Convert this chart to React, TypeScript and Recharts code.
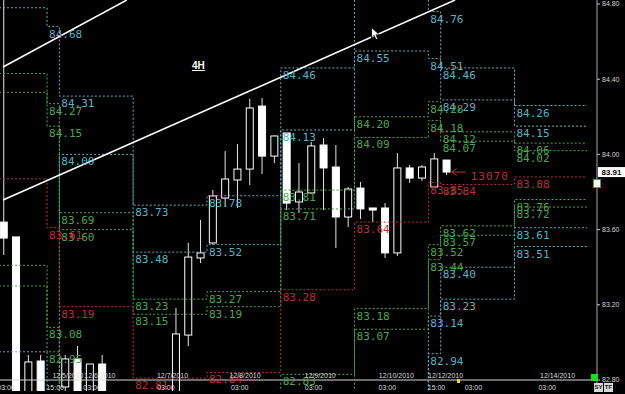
import React from 'react';
import { ComposedChart, Bar, Line, XAxis, YAxis, ReferenceLine, ReferenceDot } from 'recharts';

// ---------- candle data (4H bars, index = bar number) ----------
const opens = [83.64, 83.561, 82.7, 82.901, 82.7, 82.763, 82.912, 82.72, 82.885, 82.7, 82.58, 82.5, 82.58, 82.66, 82.7, 83.039, 83.449, 83.529, 83.768, 83.864, 83.922, 84.257, 83.991, 84.114, 83.747, 83.795, 84.05, 83.933, 83.667, 83.821, 83.715, 83.715, 83.476, 83.928, 83.874, 83.827, 83.97];
const highs = [84.95, 83.561, 82.933, 82.933, 82.735, 82.933, 82.981, 82.885, 82.933, 82.735, 82.66, 82.62, 82.7, 82.73, 83.183, 83.529, 83.651, 83.811, 84.018, 84.055, 84.295, 84.3, 84.1, 84.114, 83.954, 84.066, 84.087, 84.05, 83.827, 83.853, 83.715, 83.741, 84.007, 83.944, 83.944, 84.007, 83.97];
const lows = [83.465, 82.6, 82.62, 82.66, 82.64, 82.72, 82.68, 82.69, 82.66, 82.52, 82.45, 82.44, 82.52, 82.58, 82.66, 82.981, 83.422, 83.52, 83.72, 83.715, 83.837, 83.896, 83.954, 83.704, 83.688, 83.79, 83.704, 83.502, 83.614, 83.656, 83.64, 83.449, 83.46, 83.848, 83.859, 83.827, 83.89];
const closes = [83.555, 82.66, 82.896, 82.7, 82.72, 82.912, 82.72, 82.885, 82.7, 82.58, 82.5, 82.58, 82.66, 82.7, 83.045, 83.454, 83.476, 83.779, 83.869, 83.922, 84.247, 83.991, 84.098, 83.741, 83.8, 84.045, 83.928, 83.667, 83.816, 83.71, 83.704, 83.476, 83.928, 83.874, 83.933, 83.976, 83.906];

// ---------- daily level lines (one value per day, stepped) ----------
const dayEdges = [-0.4, 3.5, 4.5, 10.5, 16.5, 22.5, 28.5, 34.5, 35.5, 41.5, 47.4];
const cyanHigh1 = [84.78, 84.68, 84.31, 83.73, 83.78, 84.46, 84.95, 84.76, 84.46, 84.26];
const cyanHigh2 = [82.95, 82.6, 84.0, 83.48, 83.52, 84.13, 84.55, 84.51, 84.29, 84.15];
const cyanLow1 = [null, null, null, null, null, null, 82.5, 83.14, 83.4, 83.61];
const cyanLow2 = [null, null, null, null, null, null, 82.5, 82.94, 83.23, 83.51];
const greenHigh1 = [84.43, 84.27, 83.69, 83.23, 83.27, 83.81, 84.2, 84.28, 84.12, 84.06];
const greenHigh2 = [84.33, 84.15, 83.6, 83.15, 83.19, 83.71, 84.09, 84.18, 84.07, 84.02];
const greenLow1 = [83.41, 83.08, 82.65, 82.65, 82.65, 82.83, 83.18, 83.52, 83.62, 83.76];
const greenLow2 = [83.3, 82.95, 82.6, 82.6, 82.6, 82.6, 83.07, 83.44, 83.57, 83.72];
const redLevels = [83.87, 83.61, 83.19, 82.81, 82.84, 83.28, 83.64, 83.85, 83.84, 83.88];

// ---------- axis ticks ----------
const timeTickPos = [0, 4, 7, 13, 19, 25, 31, 35, 38, 44];
const timeTickLabels = ['03:00', '15:00', '03:00', '03:00', '03:00', '03:00', '03:00', '15:00', '03:00', '03:00'];
const dateTickPos = [5.2, 7.8, 13.7, 19.6, 25.7, 31.9, 35.9, 45.0];
const dateTickLabels = ['12/5/2010', '12/6/2010', '12/7/2010', '12/8/2010', '12/9/2010', '12/10/2010', '12/12/2010', '12/14/2010'];
const priceTicks = [82.8, 83.2, 83.6, 84.0, 84.4, 84.8];

// ---------- trend lines (bar index, price) ----------
const trendLine1 = [[-0.08, 84.465], [9.98, 84.821]];
const trendLine2 = [[-0.08, 83.757], [36.67, 84.821]];

const timerText = '13070';
const timeframe = '4H';

const X_DOMAIN = [-0.325, 48.21];
const Y_DOMAIN = [82.7415, 84.8213];

const CYAN = '#5fb1c2';
const GREEN = '#4fa64f';
const RED = '#b83232';
const LABEL_FONT = '"DejaVu Sans Mono", monospace';
const AXIS_FONT = '"Liberation Sans", Arial, sans-serif';

const candles = opens.map((o, i) => ({
  x: i,
  o,
  h: highs[i],
  l: lows[i],
  c: closes[i],
  range: [lows[i], highs[i]],
}));

const levelSets = [
  { vals: cyanHigh1, color: CYAN },
  { vals: cyanHigh2, color: CYAN },
  { vals: cyanLow1, color: CYAN },
  { vals: cyanLow2, color: CYAN },
  { vals: greenHigh1, color: GREEN },
  { vals: greenHigh2, color: GREEN },
  { vals: greenLow1, color: GREEN },
  { vals: greenLow2, color: GREEN },
  { vals: redLevels, color: RED },
];

const stepData = (vals: (number | null)[]) => {
  const pts: { x: number; v: number }[] = [];
  vals.forEach((v, d) => {
    if (v != null) pts.push({ x: dayEdges[d], v });
  });
  pts.push({ x: dayEdges[dayEdges.length - 1], v: vals[vals.length - 1] as number });
  return pts;
};

const labels: { x: number; v: number; color: string }[] = [];
levelSets.forEach((s) => {
  s.vals.forEach((v, d) => {
    if (d >= 1 && v != null && v > 82.76 && v < 84.81) labels.push({ x: dayEdges[d], v, color: s.color });
  });
});

const tickInfo = new Map<number, { text: string; kind: string }>();
timeTickPos.forEach((p, i) => tickInfo.set(p, { text: timeTickLabels[i], kind: 'time' }));
dateTickPos.forEach((p, i) => tickInfo.set(p, { text: dateTickLabels[i], kind: 'date' }));
const allTicks = [...timeTickPos, ...dateTickPos].sort((a, b) => a - b);

const XTick = (p: any) => {
  const info = tickInfo.get(p.payload?.value);
  if (!info) return null;
  const isDate = info.kind === 'date';
  return (
    <text
      x={p.x + (isDate ? 0 : 2)}
      y={isDate ? 378 : 390}
      textAnchor="middle"
      fill="#dcdcdc"
      fontSize={7}
      fontFamily={AXIS_FONT}
    >
      {info.text}
    </text>
  );
};

const Candle = (props: any) => {
  const { x, y, width, height, payload } = props;
  if (!payload || x == null) return null;
  const { o, h, l, c } = payload;
  const cx = x + width / 2;
  const yTop = Math.min(y, y + height);
  const yBot = Math.max(y, y + height);
  const py = (v: number) => yTop + ((h - v) / (h - l)) * (yBot - yTop);
  const bTop = py(Math.max(o, c));
  const bBot = py(Math.min(o, c));
  const bull = c >= o;
  return (
    <g>
      <line x1={cx} x2={cx} y1={yTop} y2={yBot} stroke="#e6e6e6" strokeWidth={1} />
      <rect
        x={cx - 3.5}
        y={bTop}
        width={7}
        height={Math.max(1, bBot - bTop)}
        fill={bull ? '#000' : '#ffffff'}
        stroke="#ffffff"
        strokeWidth={1}
      />
    </g>
  );
};

const lastClose = closes[closes.length - 1];

export default function App() {
  return (
    <div
      style={{
        position: 'absolute',
        left: 0,
        top: 0,
        width: 625,
        height: 394,
        background: '#000',
        overflow: 'hidden',
      }}
    >
      <ComposedChart width={625} height={394} data={candles} margin={{ top: 0, right: 0, bottom: 0, left: 0 }}>
        <XAxis
          dataKey="x"
          type="number"
          domain={X_DOMAIN}
          allowDataOverflow
          ticks={allTicks}
          interval={0}
          tick={(p: any) => <XTick {...p} />}
          axisLine={false}
          tickLine={false}
          height={3}
        />
        <YAxis
          orientation="right"
          width={28}
          domain={Y_DOMAIN}
          allowDataOverflow
          ticks={priceTicks}
          interval={0}
          tickFormatter={(v: number) => v.toFixed(2)}
          tick={{ fill: '#d4d4d4', fontSize: 7, fontFamily: AXIS_FONT }}
          tickSize={3}
          tickLine={{ stroke: '#c8c8c8' }}
          axisLine={{ stroke: '#a8a8a8' }}
        />
        <ReferenceLine y={82.8} stroke="#d8d8d8" strokeWidth={1} ifOverflow="hidden" />
        {levelSets.map((s, i) => (
          <Line
            key={'lv' + i}
            data={stepData(s.vals)}
            dataKey="v"
            type="stepAfter"
            stroke={s.color}
            strokeWidth={1}
            strokeDasharray="2 2"
            dot={false}
            activeDot={false}
            isAnimationActive={false}
          />
        ))}
        {labels.map((lb, i) => (
          <ReferenceDot
            key={'lb' + i}
            x={lb.x}
            y={lb.v}
            r={0}
            shape={(p: any) => (
              <text x={p.cx + 2} y={p.cy + 11} fill={lb.color} fontSize={11} fontFamily={LABEL_FONT}>
                {lb.v.toFixed(2)}
              </text>
            )}
          />
        ))}
        <Bar dataKey="range" barSize={8} shape={(p: any) => <Candle {...p} />} isAnimationActive={false} />
        <ReferenceLine
          segment={[
            { x: trendLine1[0][0], y: trendLine1[0][1] },
            { x: trendLine1[1][0], y: trendLine1[1][1] },
          ]}
          stroke="#ffffff"
          strokeWidth={1.6}
          ifOverflow="hidden"
        />
        <ReferenceLine
          segment={[
            { x: trendLine2[0][0], y: trendLine2[0][1] },
            { x: trendLine2[1][0], y: trendLine2[1][1] },
          ]}
          stroke="#ffffff"
          strokeWidth={1.6}
          ifOverflow="hidden"
        />
        <ReferenceDot
          x={36.4}
          y={lastClose}
          r={0}
          shape={(p: any) => (
            <g>
              <path
                d={`M${p.cx} ${p.cy} L${p.cx + 14} ${p.cy} M${p.cx} ${p.cy} L${p.cx + 5} ${p.cy - 3.5} M${p.cx} ${p.cy} L${p.cx + 5} ${p.cy + 3.5}`}
                stroke={RED}
                strokeWidth={1}
                fill="none"
              />
              <text x={p.cx + 19} y={p.cy + 8} fill={RED} fontSize={11} fontFamily={LABEL_FONT} letterSpacing={1}>
                {timerText}
              </text>
            </g>
          )}
        />
        <ReferenceDot
          x={X_DOMAIN[1]}
          y={lastClose}
          r={0}
          ifOverflow="visible"
          shape={(p: any) => (
            <g>
              <rect x={p.cx + 1} y={p.cy - 5} width={27} height={10} fill="#ffffff" />
              <text
                x={p.cx + 14.5}
                y={p.cy + 3}
                textAnchor="middle"
                fill="#000"
                fontSize={8}
                fontWeight="bold"
                fontFamily={AXIS_FONT}
              >
                {lastClose.toFixed(2)}
              </text>
            </g>
          )}
        />
      </ComposedChart>

      {/* timeframe label */}
      <div
        style={{
          position: 'absolute',
          left: 192,
          top: 60,
          color: '#fff',
          fontFamily: AXIS_FONT,
          fontWeight: 'bold',
          fontSize: 10,
          textDecoration: 'underline',
          lineHeight: '12px',
        }}
      >
        {timeframe}
      </div>

      {/* mouse cursor */}
      <svg style={{ position: 'absolute', left: 371, top: 27 }} width={10} height={14}>
        <path d="M0.5 0.5 L0.5 11 L3 8.5 L5 12.5 L6.8 11.7 L5 7.8 L8.5 7.8 Z" fill="#fff" stroke="#000" strokeWidth={0.8} />
      </svg>

      {/* small alert icon */}
      <div
        style={{
          position: 'absolute',
          left: 593,
          top: 179,
          width: 6,
          height: 7,
          border: '1px solid #3fa33f',
          background: '#fff',
        }}
      />
      {/* yellow marker */}
      <div style={{ position: 'absolute', left: 457, top: 379, width: 3, height: 4, background: '#f2d23a' }} />
      {/* green square */}
      <div style={{ position: 'absolute', left: 591, top: 374, width: 7, height: 7, background: '#19e019' }} />
      {/* SY / TF buttons */}
      <div
        style={{
          position: 'absolute',
          left: 594,
          top: 383,
          width: 9,
          height: 9,
          background: '#d8d8d8',
          color: '#111',
          fontSize: 6,
          fontFamily: AXIS_FONT,
          fontWeight: 'bold',
          lineHeight: '9px',
          textAlign: 'center',
        }}
      >
        SY
      </div>
      <div
        style={{
          position: 'absolute',
          left: 604,
          top: 383,
          width: 9,
          height: 9,
          background: '#d8d8d8',
          color: '#111',
          fontSize: 6,
          fontFamily: AXIS_FONT,
          fontWeight: 'bold',
          lineHeight: '9px',
          textAlign: 'center',
        }}
      >
        TF
      </div>
    </div>
  );
}
